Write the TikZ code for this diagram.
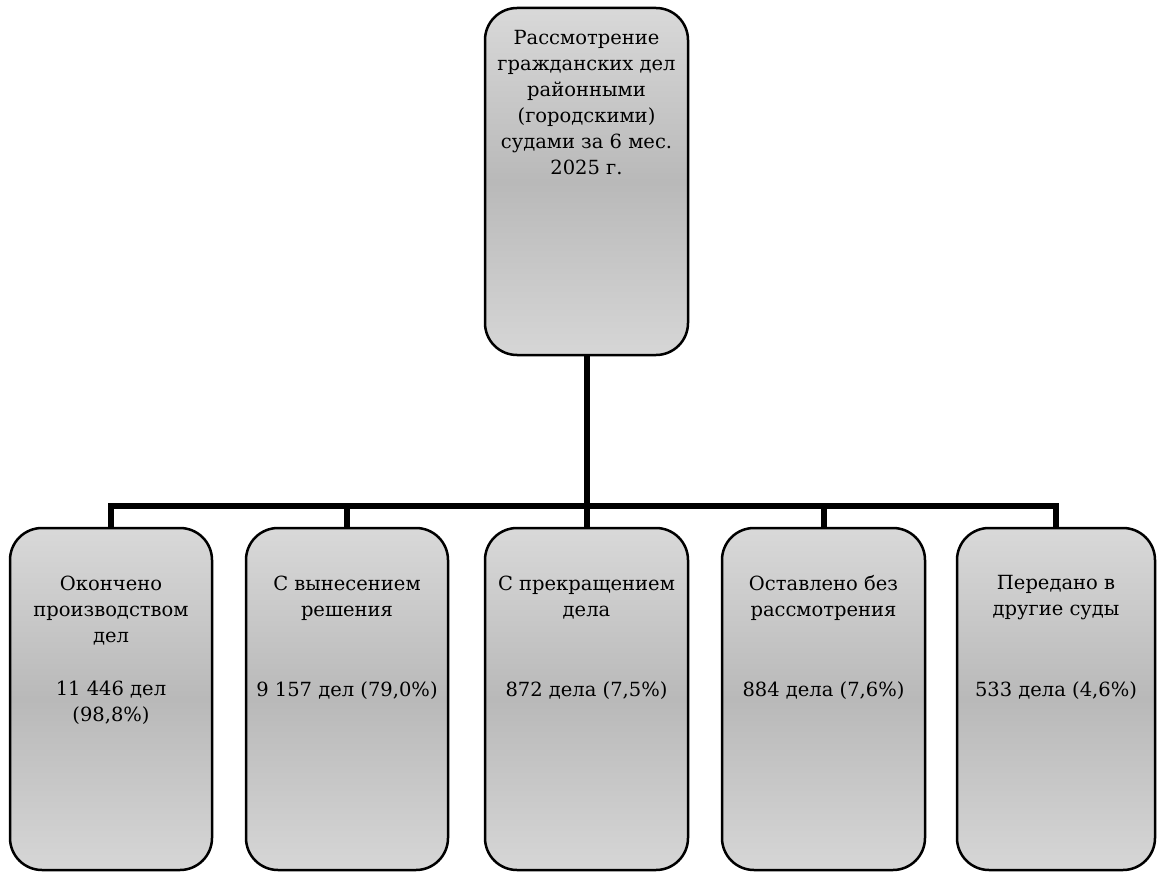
\documentclass[tikz,border=0pt]{standalone}
\usepackage{fontspec}
\setmainfont{DejaVu Serif}
\newfontfamily\serfont{DejaVu Serif}
\begin{document}
\begin{tikzpicture}[x=1pt,y=1pt,
  box/.style={draw=black, line width=2.5pt, rounded corners=32pt, shading=axis,
    top color=gray!30, bottom color=gray!32, middle color=gray!55},
  conn/.style={draw=black, line width=6pt, line join=miter},
  txt/.style={font=\serfont\fontsize{19.5}{26}\selectfont, align=center, inner sep=0pt}]
\useasboundingbox (0,0) rectangle (1157,-872);
% boxes
\node[box, minimum width=203pt, minimum height=347pt] (top) at (586.5,-181.5) {};
\node[box, minimum width=202pt, minimum height=342pt] (b1) at (111,-699) {};
\node[box, minimum width=202pt, minimum height=342pt] (b2) at (347,-699) {};
\node[box, minimum width=203pt, minimum height=342pt] (b3) at (586.5,-699) {};
\node[box, minimum width=203pt, minimum height=342pt] (b4) at (823.5,-699) {};
\node[box, minimum width=198pt, minimum height=342pt] (b5) at (1056,-699) {};
% connectors
\coordinate (hub) at (586.5,-506);
\draw[conn] (top.south) -- (hub);
\draw[conn] (b1.north) -- (b1.north |- hub) -- (b5.north |- hub) -- (b5.north);
\draw[conn] (b2.north |- hub) -- (b2.north);
\draw[conn] (b3.north |- hub) -- (b3.north);
\draw[conn] (b4.north |- hub) -- (b4.north);
% texts
\node[txt] (t0) at (586.5,-103) {Рассмотрение\\гражданских дел\\районными\\(городскими)\\судами за 6 мес.\\2025 г.};
\node[txt] (t1a) at (111,-611) {Окончено\\производством\\дел};
\node[txt] (t1b) at (111,-703) {11 446 дел\\(98,8\%)};
\node[txt] (t2a) at (347,-598) {С вынесением\\решения};
\node[txt] (t2b) at (347,-691) {9 157 дел (79,0\%)};
\node[txt] (t3a) at (586.5,-598) {С прекращением\\дела};
\node[txt] (t3b) at (586.5,-691) {872 дела (7,5\%)};
\node[txt] (t4a) at (823.5,-598) {Оставлено без\\рассмотрения};
\node[txt] (t4b) at (823.5,-691) {884 дела (7,6\%)};
\node[txt] (t5a) at (1056,-598) {Передано в\\другие суды};
\node[txt] (t5b) at (1056,-691) {533 дела (4,6\%)};
\end{tikzpicture}
\end{document}
